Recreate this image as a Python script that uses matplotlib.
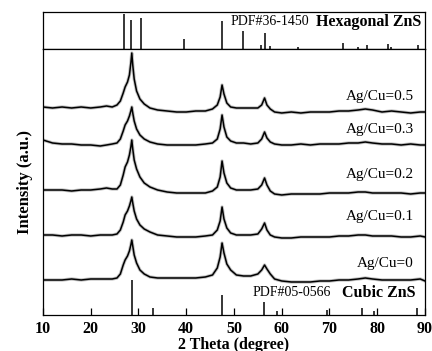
import matplotlib
matplotlib.use("Agg")
import matplotlib.pyplot as plt

plt.rcParams['font.family'] = ['Liberation Serif', 'DejaVu Serif']

# 2 theta grid shared by all patterns (degree)
two_theta = [10, 12, 14, 16, 18, 20, 22, 23.3, 24.5, 25.5,
             26.2, 26.8, 27.2, 27.7, 28.1, 28.4, 28.6, 28.8, 29.1, 29.6,
             30.3, 31.2, 32.4, 34, 36, 38, 40, 42, 44, 45.5,
             46.5, 47.1, 47.5, 47.9, 48.5, 49.3, 50.5, 52, 53.5, 55,
             55.8, 56.4, 56.9, 57.6, 58.5, 60, 62, 64, 66, 68,
             70, 72, 74, 76, 77.5, 79, 81, 83, 85, 87, 89, 90]

# stacked intensities (a.u., offsets included)
ag_cu_05 = [208, 207, 208, 207, 208, 207, 208, 209, 208, 210,
            214, 222, 228, 233, 240, 252, 262, 250, 236, 224,
            216, 211, 207, 205, 204, 203, 203, 204, 204, 206,
            210, 218, 230, 221, 212, 208, 207, 207, 207, 207,
            210, 217, 210, 206, 203, 202, 203, 202, 203, 203,
            203, 204, 204, 205, 206, 205, 203, 204, 203, 202, 203, 203]
ag_cu_03 = [175, 172, 171, 171, 170, 170, 169, 170, 171, 172,
            176, 184, 190, 194, 199, 204, 208, 202, 194, 186,
            180, 176, 173, 171, 170, 170, 170, 170, 171, 172,
            176, 186, 200, 188, 178, 174, 172, 172, 171, 172,
            176, 183, 177, 173, 171, 170, 170, 171, 170, 171,
            171, 171, 172, 172, 173, 172, 171, 171, 170, 171, 170, 170]
ag_cu_02 = [125, 125, 125, 124, 125, 125, 126, 127, 126, 126,
            130, 140, 148, 153, 160, 168, 175, 166, 155, 146,
            138, 132, 128, 125, 123, 122, 122, 122, 122, 124,
            128, 138, 154, 142, 132, 127, 125, 125, 125, 126,
            130, 137, 130, 124, 121, 120, 121, 121, 121, 121,
            122, 122, 122, 123, 123, 122, 122, 122, 122, 121, 122, 122]
ag_cu_01 = [80, 80, 79, 80, 80, 79, 80, 80, 80, 81,
            85, 93, 100, 104, 109, 114, 118, 112, 104, 96,
            90, 86, 83, 80, 79, 78, 78, 78, 79, 80,
            85, 94, 108, 96, 87, 82, 80, 80, 80, 81,
            86, 92, 85, 80, 78, 77, 77, 78, 78, 78,
            78, 79, 79, 80, 80, 79, 79, 79, 78, 78, 79, 78]
ag_cu_0 = [35, 35, 35, 36, 35, 36, 36, 36, 36, 37,
           41, 50, 55, 59, 64, 70, 75, 69, 60, 52,
           45, 41, 38, 37, 37, 37, 37, 37, 38, 40,
           47, 58, 72, 62, 51, 45, 40, 39, 39, 41,
           45, 50, 46, 41, 36, 34, 33, 33, 33, 34,
           34, 35, 35, 36, 37, 36, 35, 35, 35, 35, 36, 34]

patterns = [ag_cu_05, ag_cu_03, ag_cu_02, ag_cu_01, ag_cu_0]
labels = ["Ag/Cu=0.5", "Ag/Cu=0.3", "Ag/Cu=0.2", "Ag/Cu=0.1", "Ag/Cu=0"]
label_y = [218, 185, 140, 98, 51]

# reference cards
hex_pos = [26.9, 28.5, 30.5, 39.6, 47.5, 51.8, 55.6, 56.4, 57.6, 63.5,
           72.8, 76.0, 77.8, 82.2, 82.9, 88.5]
hex_int = [96, 79, 84, 27, 77, 49, 11, 44, 8, 5, 16, 5, 10, 14, 5, 11]
cub_pos = [28.6, 33.1, 47.5, 56.3, 59.1, 69.4, 76.8, 79.3, 88.4]
cub_int = [35, 7, 20, 13, 4, 5, 7, 4, 7]

fig = plt.figure(figsize=(4.32, 3.51), dpi=100)
ax_top = fig.add_axes([0.0995, 0.8604, 0.8843, 0.104])
ax = fig.add_axes([0.0995, 0.1026, 0.8843, 0.7578])

# hexagonal card
ax_top.vlines(hex_pos, 0, hex_int, color='black', lw=1.1)
ax_top.set_xlim(10, 90)
ax_top.set_ylim(0, 100)
ax_top.set_xticks([])
ax_top.set_yticks([])
ax_top.text(49.2, 74, "PDF#36-1450", fontsize=10, va='center', ha='left')
ax_top.text(67.2, 74, "Hexagonal ZnS", fontsize=11.5, fontweight='bold',
            va='center', ha='left')

# patterns
for y, lab, ly in zip(patterns, labels, label_y):
    ax.plot(two_theta, y, color='#9a9a9a', lw=2.4, alpha=0.6)
    ax.plot(two_theta, y, color='black', lw=1.1)
    ax.text(87.6, ly, lab, fontsize=11, ha='right', va='center')

# cubic card
ax.vlines(cub_pos, 0, cub_int, color='black', lw=1.1)
ax.text(53.8, 22, "PDF#05-0566", fontsize=10, va='center', ha='left')
ax.text(72.6, 22, "Cubic ZnS", fontsize=11.5, fontweight='bold',
        va='center', ha='left')

ax.set_xlim(10, 90)
ax.set_ylim(0, 266)
ax.set_yticks([])
ax.set_xticks(range(10, 91, 10))
ax.tick_params(axis='x', direction='in', length=5, width=0.9, labelsize=11.5, pad=4)
for t in ax.get_xticklabels():
    t.set_fontweight('bold')
ax.set_xlabel("2 Theta (degree)", fontsize=11.5, fontweight='bold', labelpad=0)
ax.set_ylabel("Intensity (a.u.)", fontsize=12, fontweight='bold', labelpad=7)

for a in (ax, ax_top):
    for s in a.spines.values():
        s.set_linewidth(0.9)

fig.savefig("out.png", dpi=100)
